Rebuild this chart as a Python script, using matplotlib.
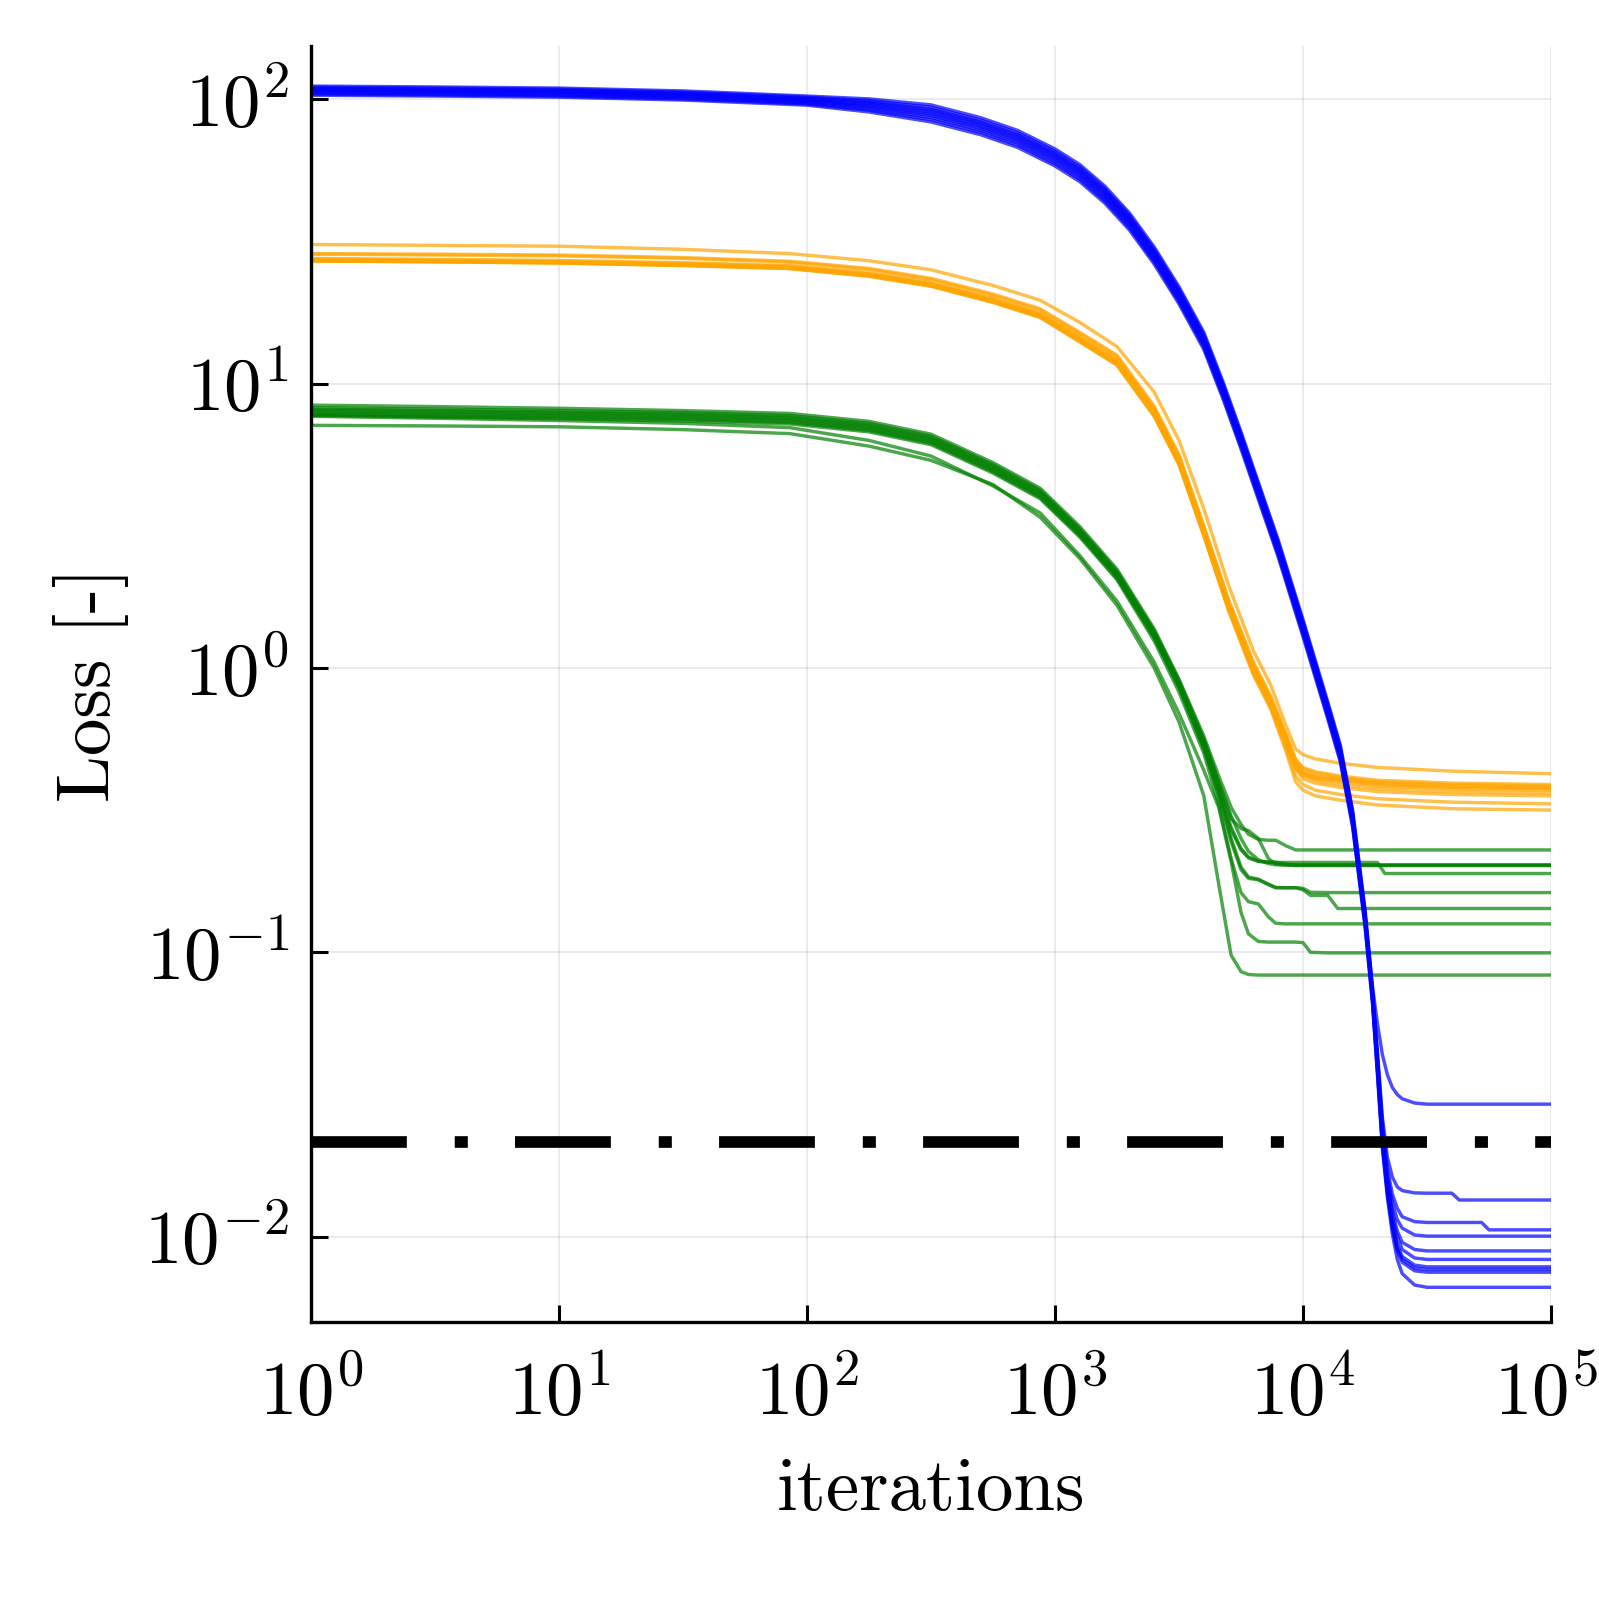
import numpy as np
import matplotlib
matplotlib.use("Agg")
import matplotlib.pyplot as plt
from matplotlib.transforms import ScaledTranslation

plt.rcParams['font.family'] = 'serif'
plt.rcParams['font.serif'] = ['cmr10']
plt.rcParams['mathtext.fontset'] = 'cm'
plt.rcParams['axes.formatter.use_mathtext'] = True
plt.rcParams['lines.scale_dashes'] = False

# values, stored as log10(iterations) and log10(loss)
blue_log_iter = [0, 0.5, 1, 1.5, 2, 2.25, 2.5, 2.7, 2.85, 3.0, 3.1, 3.2, 3.3, 3.4, 3.5, 3.6, 3.68, 3.75, 3.9,
                 4.0, 4.1, 4.15, 4.2, 4.25, 4.28,
                 4.30, 4.32, 4.34, 4.36, 4.38, 4.40, 4.45, 4.5, 4.6, 4.63, 4.72, 4.75, 5]
blue_log_loss = [
    [2.046, 2.043, 2.039, 2.029, 2.011, 2.001, 1.98, 1.935, 1.89, 1.825, 1.77, 1.695, 1.60, 1.48, 1.34, 1.18, 1.00, 0.83, 0.45,
     0.17, -0.12, -0.27, -0.50, -0.85, -1.12,
     -1.25, -1.36, -1.43, -1.475, -1.50, -1.515, -1.53, -1.534, -1.534, -1.534, -1.534, -1.534, -1.534],
    [2.042, 2.039, 2.035, 2.025, 2.007, 1.995, 1.972, 1.927, 1.882, 1.817, 1.762, 1.687, 1.592, 1.472, 1.332, 1.172, 0.992, 0.822, 0.442,
     0.162, -0.128, -0.278, -0.508, -0.858, -1.128,
     -1.35, -1.58, -1.72, -1.79, -1.825, -1.838, -1.846, -1.847, -1.847, -1.871, -1.871, -1.871, -1.871],
    [2.038, 2.035, 2.031, 2.021, 2.003, 1.99, 1.965, 1.92, 1.875, 1.81, 1.755, 1.68, 1.585, 1.465, 1.325, 1.165, 0.985, 0.815, 0.435,
     0.155, -0.135, -0.285, -0.515, -0.865, -1.135,
     -1.36, -1.60, -1.76, -1.85, -1.90, -1.93, -1.947, -1.95, -1.95, -1.95, -1.95, -1.976, -1.976],
    [2.035, 2.032, 2.028, 2.018, 2.0, 1.986, 1.96, 1.915, 1.87, 1.805, 1.75, 1.675, 1.58, 1.46, 1.32, 1.16, 0.98, 0.81, 0.43,
     0.15, -0.14, -0.29, -0.52, -0.87, -1.14,
     -1.37, -1.62, -1.78, -1.88, -1.94, -1.97, -1.994, -1.998, -1.998, -1.998, -1.998, -1.998, -1.998],
    [2.032, 2.029, 2.025, 2.015, 1.997, 1.981, 1.954, 1.909, 1.864, 1.799, 1.744, 1.669, 1.574, 1.454, 1.314, 1.154, 0.974, 0.804, 0.424,
     0.144, -0.146, -0.296, -0.526, -0.876, -1.146,
     -1.38, -1.64, -1.80, -1.91, -1.98, -2.02, -2.045, -2.05, -2.05, -2.05, -2.05, -2.05, -2.05],
    [2.029, 2.026, 2.022, 2.012, 1.994, 1.976, 1.948, 1.903, 1.858, 1.793, 1.738, 1.663, 1.568, 1.448, 1.308, 1.148, 0.968, 0.798, 0.418,
     0.138, -0.152, -0.302, -0.532, -0.882, -1.152,
     -1.39, -1.65, -1.81, -1.93, -2.0, -2.045, -2.075, -2.08, -2.08, -2.08, -2.08, -2.08, -2.08],
    [2.026, 2.023, 2.019, 2.009, 1.991, 1.972, 1.942, 1.897, 1.852, 1.787, 1.732, 1.657, 1.562, 1.442, 1.302, 1.142, 0.962, 0.792, 0.412,
     0.132, -0.158, -0.308, -0.538, -0.888, -1.158,
     -1.40, -1.66, -1.83, -1.95, -2.03, -2.07, -2.10, -2.106, -2.106, -2.106, -2.106, -2.106, -2.106],
    [2.022, 2.019, 2.015, 2.005, 1.987, 1.966, 1.935, 1.89, 1.845, 1.78, 1.725, 1.65, 1.555, 1.435, 1.295, 1.135, 0.955, 0.785, 0.405,
     0.125, -0.165, -0.315, -0.545, -0.895, -1.165,
     -1.41, -1.67, -1.84, -1.96, -2.04, -2.08, -2.11, -2.115, -2.115, -2.115, -2.115, -2.115, -2.115],
    [2.018, 2.015, 2.011, 2.001, 1.983, 1.961, 1.928, 1.883, 1.838, 1.773, 1.718, 1.643, 1.548, 1.428, 1.288, 1.128, 0.948, 0.778, 0.398,
     0.118, -0.172, -0.322, -0.552, -0.902, -1.172,
     -1.42, -1.68, -1.85, -1.97, -2.05, -2.09, -2.12, -2.125, -2.125, -2.125, -2.125, -2.125, -2.125],
    [2.014, 2.011, 2.007, 1.997, 1.979, 1.955, 1.92, 1.875, 1.83, 1.765, 1.71, 1.635, 1.54, 1.42, 1.28, 1.12, 0.94, 0.77, 0.39,
     0.11, -0.18, -0.33, -0.56, -0.91, -1.18,
     -1.43, -1.69, -1.86, -1.99, -2.08, -2.13, -2.17, -2.178, -2.178, -2.178, -2.178, -2.178, -2.178],
]

orange_log_iter = [0, 0.5, 1, 1.5, 1.93, 2.25, 2.5, 2.75, 2.94, 3.1, 3.25, 3.4, 3.5, 3.6, 3.7, 3.8,
                   3.87, 3.93, 3.97, 4.0, 4.05, 4.15, 4.3, 4.6, 5]
orange_log_loss = [
    [1.489, 1.486, 1.483, 1.472, 1.457, 1.432, 1.40, 1.345, 1.293, 1.215, 1.13, 0.97, 0.80, 0.56, 0.29, 0.06,
     -0.06, -0.20, -0.285, -0.305, -0.32, -0.335, -0.35, -0.363, -0.372],
    [1.457, 1.455, 1.452, 1.443, 1.43, 1.405, 1.37, 1.315, 1.263, 1.18, 1.10, 0.92, 0.75, 0.50, 0.24, 0.02,
     -0.10, -0.23, -0.32, -0.35, -0.365, -0.38, -0.395, -0.405, -0.41],
    [1.455, 1.452, 1.449, 1.44, 1.427, 1.401, 1.365, 1.31, 1.258, 1.175, 1.095, 0.915, 0.745, 0.495, 0.235, 0.015,
     -0.105, -0.235, -0.325, -0.355, -0.37, -0.385, -0.40, -0.41, -0.415],
    [1.44, 1.437, 1.433, 1.425, 1.415, 1.39, 1.355, 1.30, 1.248, 1.165, 1.085, 0.905, 0.735, 0.485, 0.225, 0.005,
     -0.115, -0.245, -0.335, -0.365, -0.38, -0.39, -0.405, -0.415, -0.42],
    [1.437, 1.434, 1.43, 1.422, 1.412, 1.386, 1.351, 1.296, 1.244, 1.16, 1.08, 0.90, 0.73, 0.48, 0.22, 0.0,
     -0.12, -0.25, -0.34, -0.37, -0.385, -0.395, -0.41, -0.42, -0.425],
    [1.434, 1.431, 1.427, 1.419, 1.408, 1.383, 1.348, 1.292, 1.24, 1.156, 1.075, 0.895, 0.725, 0.475, 0.215, -0.005,
     -0.125, -0.255, -0.345, -0.375, -0.39, -0.40, -0.415, -0.425, -0.43],
    [1.432, 1.429, 1.425, 1.417, 1.406, 1.38, 1.345, 1.288, 1.236, 1.152, 1.07, 0.89, 0.72, 0.47, 0.21, -0.01,
     -0.13, -0.26, -0.35, -0.38, -0.395, -0.41, -0.425, -0.435, -0.44],
    [1.431, 1.428, 1.424, 1.415, 1.404, 1.377, 1.342, 1.285, 1.232, 1.148, 1.065, 0.885, 0.715, 0.465, 0.205, -0.015,
     -0.135, -0.265, -0.355, -0.39, -0.405, -0.42, -0.435, -0.445, -0.45],
    [1.433, 1.43, 1.426, 1.418, 1.407, 1.381, 1.346, 1.29, 1.238, 1.15, 1.07, 0.89, 0.72, 0.47, 0.21, -0.02,
     -0.14, -0.28, -0.38, -0.41, -0.43, -0.445, -0.46, -0.472, -0.478],
    [1.431, 1.428, 1.424, 1.415, 1.405, 1.378, 1.343, 1.286, 1.234, 1.146, 1.065, 0.885, 0.715, 0.465, 0.20, -0.025,
     -0.145, -0.29, -0.40, -0.43, -0.45, -0.465, -0.482, -0.495, -0.50],
]

green_log_iter = [0, 0.5, 1, 1.5, 1.93, 2.25, 2.5, 2.75, 2.94, 3.1, 3.25, 3.4, 3.5, 3.6,
                  3.66, 3.71, 3.75, 3.78, 3.82, 3.86, 3.89, 3.93, 3.97, 4.0, 4.03, 4.1, 4.14, 4.3, 4.33, 5]
green_log_loss = [
    [0.924, 0.919, 0.913, 0.905, 0.895, 0.867, 0.822, 0.722, 0.632, 0.497, 0.347, 0.137, -0.04, -0.24,
     -0.38, -0.49, -0.55, -0.585, -0.603, -0.606, -0.606, -0.625, -0.64, -0.64, -0.64, -0.64, -0.64, -0.64, -0.64, -0.64],
    [0.915, 0.91, 0.905, 0.898, 0.888, 0.86, 0.815, 0.715, 0.625, 0.49, 0.34, 0.13, -0.045, -0.25,
     -0.40, -0.52, -0.60, -0.645, -0.675, -0.688, -0.692, -0.693, -0.693, -0.693, -0.693, -0.693, -0.693, -0.693, -0.693, -0.693],
    [0.91, 0.905, 0.90, 0.893, 0.883, 0.855, 0.81, 0.71, 0.62, 0.485, 0.335, 0.125, -0.05, -0.255,
     -0.405, -0.53, -0.565, -0.572, -0.60, -0.67, -0.69, -0.693, -0.693, -0.693, -0.693, -0.693, -0.693, -0.693, -0.693, -0.693],
    [0.905, 0.90, 0.895, 0.888, 0.878, 0.85, 0.805, 0.705, 0.615, 0.48, 0.33, 0.12, -0.055, -0.26,
     -0.42, -0.56, -0.635, -0.665, -0.68, -0.682, -0.683, -0.69, -0.695, -0.695, -0.695, -0.695, -0.695, -0.695, -0.695, -0.695],
    [0.90, 0.895, 0.89, 0.883, 0.873, 0.845, 0.80, 0.70, 0.61, 0.475, 0.325, 0.115, -0.06, -0.27,
     -0.43, -0.57, -0.64, -0.668, -0.68, -0.684, -0.684, -0.684, -0.684, -0.684, -0.684, -0.684, -0.684, -0.684, -0.723, -0.723],
    [0.895, 0.89, 0.885, 0.878, 0.868, 0.84, 0.795, 0.695, 0.605, 0.47, 0.32, 0.11, -0.065, -0.28,
     -0.44, -0.60, -0.70, -0.735, -0.743, -0.76, -0.772, -0.773, -0.773, -0.775, -0.789, -0.79, -0.79, -0.79, -0.79, -0.79],
    [0.89, 0.885, 0.88, 0.873, 0.863, 0.835, 0.79, 0.69, 0.60, 0.465, 0.315, 0.105, -0.07, -0.285,
     -0.45, -0.61, -0.71, -0.74, -0.745, -0.762, -0.773, -0.773, -0.773, -0.78, -0.80, -0.80, -0.846, -0.846, -0.846, -0.846],
    [0.888, 0.882, 0.876, 0.868, 0.858, 0.83, 0.785, 0.685, 0.595, 0.46, 0.31, 0.095, -0.085, -0.30,
     -0.48, -0.67, -0.79, -0.822, -0.83, -0.875, -0.898, -0.9, -0.9, -0.9, -0.9, -0.9, -0.9, -0.9, -0.9, -0.9],
    [0.885, 0.878, 0.87, 0.86, 0.845, 0.80, 0.745, 0.64, 0.545, 0.395, 0.235, 0.02, -0.16, -0.36,
     -0.49, -0.68, -0.86, -0.935, -0.962, -0.964, -0.964, -0.964, -0.964, -0.966, -1.0, -1.002, -1.002, -1.002, -1.002, -1.002],
    [0.853, 0.851, 0.848, 0.838, 0.824, 0.78, 0.73, 0.645, 0.53, 0.385, 0.22, 0.0, -0.19, -0.45,
     -0.76, -1.01, -1.068, -1.078, -1.08, -1.08, -1.08, -1.08, -1.08, -1.08, -1.08, -1.08, -1.08, -1.08, -1.08, -1.08],
]

threshold = 0.0215

x_ticks = [1, 10, 100, 1000, 10000, 100000]
x_tick_labels = [r'$10^{0}$', r'$10^{1}$', r'$10^{2}$', r'$10^{3}$', r'$10^{4}$', r'$10^{5}$']
y_ticks = [0.01, 0.1, 1, 10, 100]
y_tick_labels = [r'$10^{-2}$', r'$10^{-1}$', r'$10^{0}$', r'$10^{1}$', r'$10^{2}$']

fig = plt.figure(figsize=(15.99, 16.0), dpi=100)
ax = fig.add_axes([0.1945, 0.17375, 0.7755, 0.7975])

groups = [(green_log_iter, green_log_loss, 'green'),
          (orange_log_iter, orange_log_loss, 'orange'),
          (blue_log_iter, blue_log_loss, 'blue')]
for log_iter, log_loss, color in groups:
    x = 10.0 ** np.array(log_iter)
    for run in log_loss:
        ax.plot(x, 10.0 ** np.array(run), color=color, lw=2.45, alpha=0.7,
                solid_joinstyle='round')

ax.axhline(threshold, color='black', lw=8.4, dashes=(69, 34.5, 9.4, 34))

ax.set_xscale('log')
ax.set_yscale('log')
ax.set_xlim(1, 1e5)
ax.set_ylim(10 ** -2.30, 10 ** 2.187)
ax.set_xticks(x_ticks)
ax.set_xticklabels(x_tick_labels)
ax.set_yticks(y_ticks)
ax.set_yticklabels(y_tick_labels)
ax.minorticks_off()

ax.grid(True, color='black', alpha=0.1, lw=1.1)
ax.set_axisbelow(True)
for side in ['top', 'right']:
    ax.spines[side].set_visible(False)
for side in ['left', 'bottom']:
    ax.spines[side].set_linewidth(2.4)

ax.tick_params(direction='in', length=12.5, width=2.2, labelsize=54)
ax.tick_params(axis='x', pad=27)
ax.tick_params(axis='y', pad=16)

# keep the last x label inside the canvas
last = ax.get_xticklabels()[-1]
last.set_transform(last.get_transform() + ScaledTranslation(-5 / 100, 0, fig.dpi_scale_trans))

ax.set_xlabel('iterations', fontsize=54, labelpad=20)
ax.set_ylabel('Loss [-]', fontsize=54, labelpad=11)

fig.savefig('out.png', dpi=100)
